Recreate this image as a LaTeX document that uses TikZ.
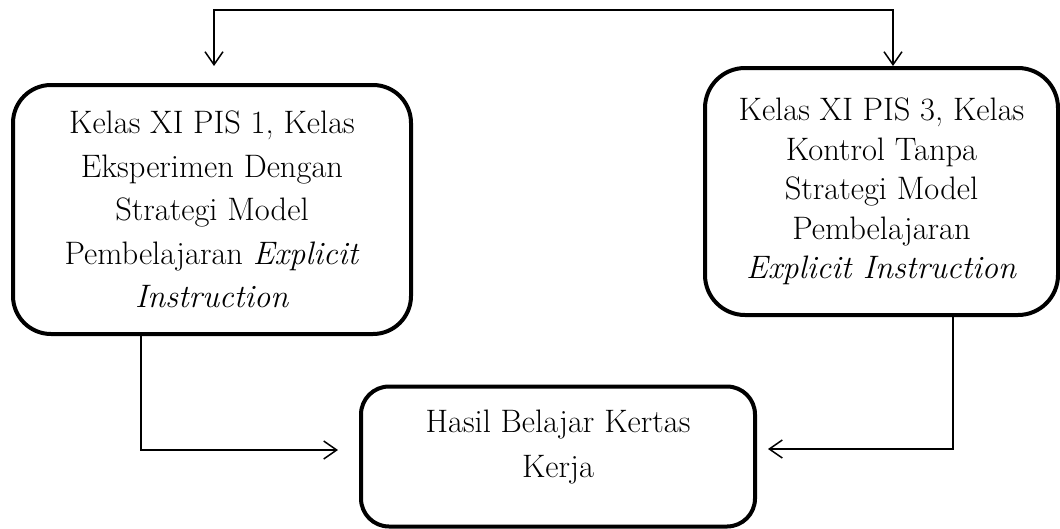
\documentclass[tikz,border=0pt]{standalone}
\usetikzlibrary{arrows.meta}
\begin{document}
\begin{tikzpicture}[x=1pt,y=-1pt,
  box/.style={draw, line width=4pt, align=center, inner sep=0pt},
  conn/.style={line width=1.5pt},
  arr/.style={conn, -{Straight Barb[length=13pt,width=18pt]}}]
\useasboundingbox (0,0) rectangle (1060,528);
\node[box, rounded corners=38pt, minimum width=398pt, minimum height=249pt,
      font=\fontsize{32.5}{43.5}\selectfont] (L) at (212,209.5)
  {Kelas XI PIS 1, Kelas\\Eksperimen Dengan\\Strategi Model\\Pembelajaran \textit{Explicit}\\\textit{Instruction}};
\node[box, rounded corners=40pt, minimum width=353pt, minimum height=247pt,
      font=\fontsize{32.5}{39.5}\selectfont] (R) at (881.5,191.5)
  {Kelas XI PIS 3, Kelas\\Kontrol Tanpa\\Strategi Model\\Pembelajaran\\\textit{Explicit Instruction}};
\node[box, rounded corners=28pt, minimum width=394pt, minimum height=140pt,
      text depth=26pt, font=\fontsize{32.5}{45}\selectfont] (B) at (558,456.5)
  {Hasil Belajar Kertas\\Kerja};
\coordinate (tm) at (555,10);
\coordinate (la) at (214,66);
\coordinate (ra) at (893,66);
\coordinate (lx) at (141,0);
\coordinate (rx) at (953,0);
\coordinate (lt) at (338,450);
\coordinate (rt) at (768,449);
\draw[arr] (tm) -| (la);
\draw[arr] (tm) -| (ra);
\draw[arr] (L.south -| lx) |- (lt);
\draw[arr] (R.south -| rx) |- (rt);
\end{tikzpicture}
\end{document}
